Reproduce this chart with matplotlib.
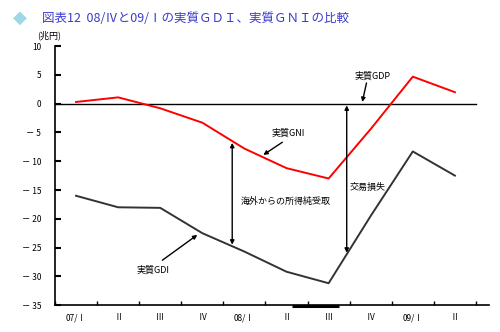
import matplotlib
matplotlib.use("Agg")
import matplotlib.pyplot as plt

plt.rcParams['font.family'] = ['Noto Sans CJK JP', 'DejaVu Sans']

# quarters 07/I .. 09/II
quarters = ["07/Ⅰ", "Ⅱ", "Ⅲ", "Ⅳ", "08/Ⅰ", "Ⅱ", "Ⅲ", "Ⅳ", "09/Ⅰ", "Ⅱ"]
gni = [0.3, 1.1, -0.8, -3.3, -7.8, -11.2, -13.0, -4.4, 4.7, 2.0]
gdi = [-16.0, -18.0, -18.1, -22.5, -25.7, -29.2, -31.2, -19.5, -8.3, -12.5]
gdp = [0.0] * len(quarters)
yticks = [10, 5, 0, -5, -10, -15, -20, -25, -30, -35]

fig = plt.figure(figsize=(5.0, 3.32), dpi=100)
ax = fig.add_axes([0.11, 0.081, 0.868, 0.78])

x = list(range(len(quarters)))
ax.plot([-0.5, 9.5], [0, 0], color="black", lw=1.0)
ax.plot(x, gni, color="#ff0000", lw=1.4)
ax.plot(x, gdi, color="#333333", lw=1.4)

ax.set_xlim(-0.5, 9.81)
ax.set_ylim(-35, 10)
ax.set_yticks(yticks)
ax.set_yticklabels([str(v) if v >= 0 else "－ " + str(-v) for v in yticks], fontsize=6)
ax.set_xticks([i - 0.5 for i in range(len(quarters) + 1)])
ax.set_xticklabels([])
ax.set_xticks(x, minor=True)
ax.set_xticklabels(quarters, minor=True, fontsize=6)
ax.tick_params(axis="x", which="minor", length=0, pad=6)
ax.tick_params(axis="x", which="major", direction="in", length=3, width=1)
ax.tick_params(axis="y", direction="in", length=4, width=1.5, pad=10)
for s in ["top", "right"]:
    ax.spines[s].set_visible(False)
for s in ["left", "bottom"]:
    ax.spines[s].set_linewidth(1.2)

# stray thick segment on the x axis
ax.plot([5.12, 6.24], [-35.15, -35.15], color="black", lw=2.2, clip_on=False,
        solid_capstyle="butt")

ax.text(-0.93, 11.0, "(兆円)", fontsize=6.5, ha="left", va="bottom")

arr2 = dict(arrowstyle="<|-|>", color="black", lw=1.0, mutation_scale=6,
            shrinkA=0, shrinkB=0)
arr1 = dict(arrowstyle="-|>", color="black", lw=1.0, mutation_scale=6,
            shrinkA=0, shrinkB=0)
fs = 6.5
ax.annotate("", xy=(3.71, -24.5), xytext=(3.71, -6.8), arrowprops=arr2)
ax.text(3.9, -16.9, "海外からの所得純受取", fontsize=fs, va="center")
ax.annotate("", xy=(6.43, -25.9), xytext=(6.43, -0.3), arrowprops=arr2)
ax.text(6.5, -14.5, "交易損失", fontsize=fs, va="center")

ax.text(5.05, -5.1, "実質GNI", fontsize=fs, ha="center", va="center")
ax.annotate("", xy=(4.45, -8.9), xytext=(4.9, -6.7), arrowprops=arr1)
ax.text(1.83, -28.9, "実質GDI", fontsize=fs, ha="center", va="center")
ax.annotate("", xy=(2.88, -22.8), xytext=(2.05, -27.2), arrowprops=arr1)
ax.text(7.05, 4.8, "実質GDP", fontsize=fs, ha="center", va="center")
ax.annotate("", xy=(6.8, 0.3), xytext=(6.9, 3.6), arrowprops=arr1)

# title with diamond icon
fig.text(0.04, 0.945, "◆", color="#9ed8e8", fontsize=13, ha="center", va="center",
         family=["DejaVu Sans"])
fig.text(0.084, 0.945, "図表12  08/Ⅳと09/Ⅰの実質ＧＤＩ、実質ＧＮＩの比較",
         color="#3b3bd0", fontsize=9, ha="left", va="center")

fig.savefig("out.png", dpi=100)
